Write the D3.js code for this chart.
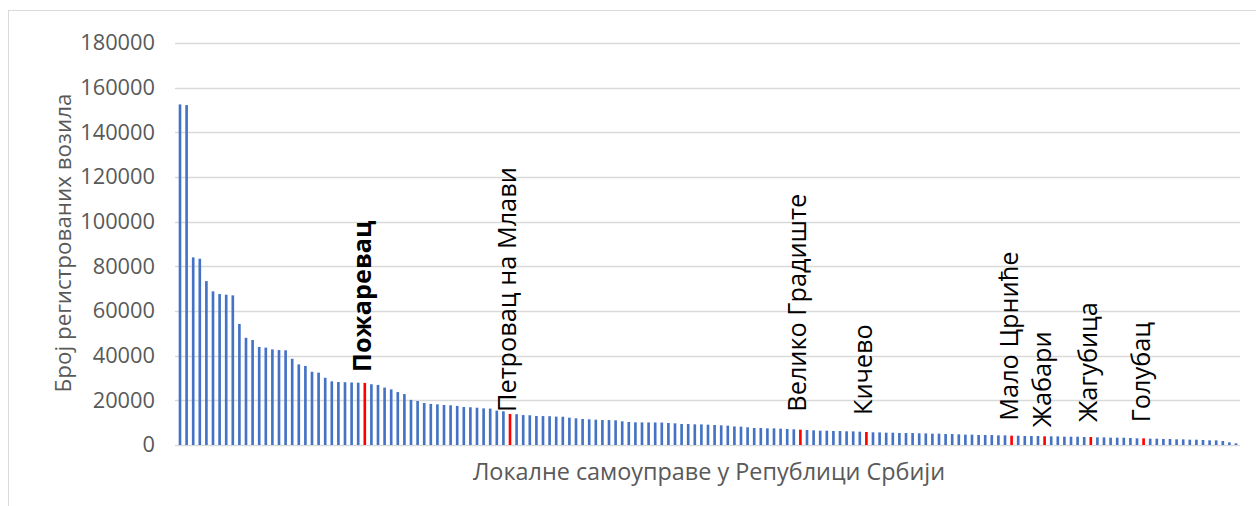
<!DOCTYPE html>
<html>
<head>
<meta charset="utf-8">
<script src="https://cdn.jsdelivr.net/npm/d3@7"></script>
<style>
  body { margin: 0; background: #fff; }
  svg { display: block; font-family: "Open Sans", sans-serif; }
</style>
</head>
<body>
<svg width="1256" height="506"></svg>
<script>
"use strict";

// broj registrovanih vozila po lokalnoj samoupravi (sortirano opadajuce)
const vehicles = [
  152500, 152200, 84000, 83400, 73400, 68800, 67600, 67300, 67000, 54200,
  48000, 47000, 43900, 43600, 42800, 42500, 42400, 38600, 36100, 35400,
  32800, 32400, 30100, 28500, 28200, 28100, 28000, 27900, 27800, 27200,
  26900, 25700, 24900, 23700, 22800, 20200, 19700, 18800, 18400, 18200,
  17900, 17800, 17500, 17000, 16900, 16700, 16400, 16300, 15400, 15100,
  13900, 13800, 13400, 13300, 13000, 12950, 12900, 12700, 12650, 12240,
  11940, 11640, 11490, 11340, 11190, 11150, 11040, 10600, 10300, 10150,
  10120, 10100, 10080, 10050, 9850, 9700, 9400, 9380, 9250, 9230,
  9100, 8955, 8800, 8660, 8300, 8210, 7910, 7610, 7600, 7460,
  7450, 7310, 7160, 7020, 6870, 6720, 6570, 6420, 6400, 6270,
  6250, 6120, 6100, 5970, 5820, 5670, 5650, 5520, 5500, 5370,
  5360, 5350, 5220, 5200, 5075, 5060, 4925, 4910, 4780, 4630,
  4620, 4480, 4470, 4460, 4330, 4320, 4180, 4170, 4030, 4020,
  4010, 3880, 3870, 3860, 3730, 3720, 3710, 3580, 3570, 3430,
  3420, 3280, 3270, 3260, 3130, 2985, 2980, 2835, 2830, 2690,
  2680, 2540, 2530, 2390, 2380, 2240, 2090, 2080, 1790, 1190,
  750
];
const categories = vehicles.map((d, i) => i);

// oznacene opstine (indeks stubica i naziv)
const markedIndex = [28, 50, 94, 104, 126, 131, 138, 146];
const markedNames = ["Пожаревац", "Петровац на Млави", "Велико Градиште", "Кичево",
  "Мало Црниће", "Жабари", "Жагубица", "Голубац"];
const markedBold = [true, false, false, false, false, false, false, false];
// koliko je natpis podignut iznad vrha stubica (px)
const labelGap = [11, 2, 18, 17, 15, 9, 15, 16];

const yTicks = [0, 20000, 40000, 60000, 80000, 100000, 120000, 140000, 160000, 180000];

const svg = d3.select("svg");
const plotLeft = 175, plotRight = 1240, plotTop = 43, plotBottom = 445;

// okvir grafikona
svg.append("rect")
  .attr("x", 8.5).attr("y", 10.5)
  .attr("width", 1300).attr("height", 600)
  .style("fill", "none").style("stroke", "#d9d9d9");

const x = d3.scaleBand().domain(categories).range([176.7, 1239.3]).paddingInner(0.6).paddingOuter(0.3);
const y = d3.scaleLinear().domain([0, 180000]).range([plotBottom, plotTop]);

// mreza
svg.append("g").selectAll("line")
  .data(yTicks)
  .join("line")
  .attr("x1", plotLeft).attr("x2", plotRight)
  .attr("y1", d => Math.round(y(d)) + 0.5).attr("y2", d => Math.round(y(d)) + 0.5)
  .style("stroke", "#d9d9d9").style("stroke-width", 1.3);

// y osa
const yAxis = svg.append("g")
  .attr("transform", "translate(155,0)")
  .call(d3.axisLeft(y).tickValues(yTicks).tickSize(0).tickPadding(0).tickFormat(d3.format("d")));
yAxis.select(".domain").remove();
yAxis.selectAll("text")
  .style("font-family", "Open Sans, sans-serif")
  .style("font-size", "21.8px")
  .style("fill", "#595959");

// stubici
const marked = new Set(markedIndex);
svg.append("g").selectAll("rect")
  .data(vehicles)
  .join("rect")
  .attr("x", (d, i) => x(i))
  .attr("width", x.bandwidth())
  .attr("y", d => y(d))
  .attr("height", d => plotBottom - y(d))
  .style("fill", (d, i) => marked.has(i) ? "#ff0000" : "#4472c4");

// natpisi iznad oznacenih stubica
svg.append("g").selectAll("text")
  .data(markedIndex)
  .join("text")
  .attr("transform", (d, k) => {
    const cx = x(d) + x.bandwidth() / 2 + 6;
    const ty = y(vehicles[d]) - labelGap[k];
    return `translate(${cx},${ty}) rotate(-90)`;
  })
  .style("font-size", "25.3px")
  .style("font-weight", (d, k) => markedBold[k] ? "bold" : "normal")
  .style("fill", "#000")
  .text((d, k) => markedNames[k]);

// naslovi osa
svg.append("text")
  .attr("transform", "translate(71,243) rotate(-90)")
  .attr("text-anchor", "middle")
  .style("font-size", "22.4px")
  .style("fill", "#595959")
  .text("Број регистрованих возила");

svg.append("text")
  .attr("x", 709).attr("y", 480)
  .attr("text-anchor", "middle")
  .style("font-size", "23.4px")
  .style("fill", "#595959")
  .text("Локалне самоуправе у Републици Србији");
</script>
</body>
</html>
